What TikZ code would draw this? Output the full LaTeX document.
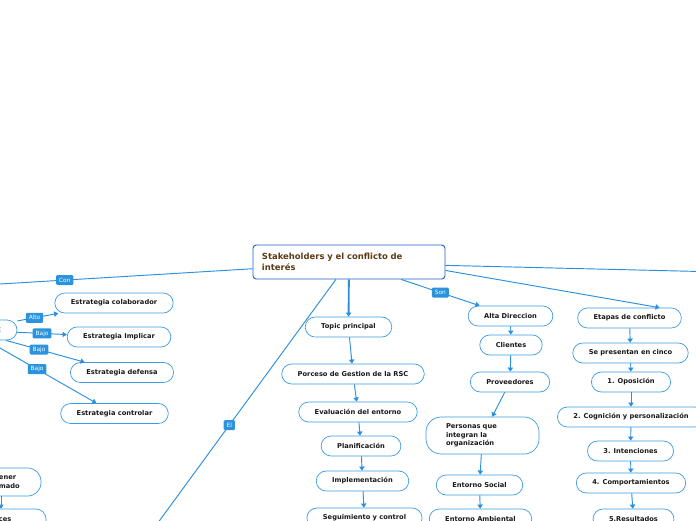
\documentclass[tikz,border=0pt]{standalone}
\usepackage{fontspec}
\setmainfont{DejaVu Sans}
\usetikzlibrary{arrows.meta}
\definecolor{linkblue}{HTML}{2B8FDE}
\definecolor{boxblue}{HTML}{3B9CE6}
\definecolor{tagblue}{HTML}{2B93DD}
\definecolor{mainblue}{HTML}{1B63C6}
\definecolor{maintext}{HTML}{5C3B14}
\tikzset{
	topic/.style={draw=boxblue, fill=white, line width=0.6pt, rounded corners=0.3cm, minimum height=0.6cm, inner xsep=0.48cm, inner ysep=0pt, font=\fontsize{5.7}{7.4}\selectfont\bfseries, text=black!90},
	maintopic/.style={draw=mainblue, fill=white, line width=0.8pt, rounded corners=0.1cm, minimum height=1.02cm, inner xsep=0.27cm, text width=5.22cm, align=left, font=\fontsize{7.2}{9.4}\selectfont\bfseries, text=maintext},
	link/.style={draw=linkblue, line width=0.8pt, -{Triangle[length=3.5pt,width=4.5pt]}},
	plainlink/.style={draw=linkblue, line width=0.8pt},
	tag/.style={fill=tagblue, text=white, rounded corners=1pt, inner xsep=2.5pt, inner ysep=1.5pt, minimum height=0.3cm, font=\fontsize{5}{6}\selectfont}
}
\begin{document}
\begin{tikzpicture}[x=0.03cm, y=-0.03cm]
	\fill[white] (0,0) rectangle (696,520);
	\useasboundingbox (0,0) rectangle (696,520);
	
	\node[maintopic] (main) at (349,262) {Stakeholders y el conflicto de\\interés};
	
	\node[topic, minimum width=2.91cm, text width=1.95cm, align=right] (lft) at (-31.5,330) {E};
	\node[topic] (colab) at (114,303) {Estrategia colaborador};
	\node[topic] (implicar) at (119,337) {Estrategia Implicar};
	\node[topic] (defensa) at (122,372.5) {Estrategia defensa};
	\node[topic] (controlar) at (114.5,413.5) {Estrategia controlar};
	\node[topic, text width=0.78cm, align=left, minimum height=0.84cm, rounded corners=0.4cm] (nA) at (12,482) {ener\\mado};
	\node[topic, text width=0.93cm, align=left, minimum height=0.66cm] (nB) at (14.5,520) {ces};
	
	\node[topic] (tema) at (348.5,327) {Topic principal};
	\node[topic] (proceso) at (353,374) {Porceso de Gestion de la RSC};
	\node[topic] (evalua) at (358,412) {Evaluación del entorno};
	\node[topic] (planif) at (361,446) {Planificación};
	\node[topic] (implem) at (362.5,481) {Implementación};
	\node[topic] (segui) at (364.5,518) {Seguimiento y control};
	
	\node[topic] (alta) at (510.5,316) {Alta Direccion};
	\node[topic] (clientes) at (511,345) {Clientes};
	\node[topic] (provee) at (510,382) {Proveedores};
	\node[topic, text width=2.19cm, inner xsep=0.6cm, align=left, minimum height=1.11cm, rounded corners=0.45cm] (personas) at (482.5,435.5) {Personas que\\integran la\\organización};
	\node[topic] (social) at (479.5,485) {Entorno Social};
	\node[topic] (ambiental) at (480.5,519) {Entorno Ambiental};
	
	\node[topic] (etapas) at (629.5,318) {Etapas de conflicto};
	\node[topic] (cinco) at (630.5,353) {Se presentan en cinco};
	\node[topic] (e1) at (631,382) {1. Oposición};
	\node[topic] (e2) at (631,417) {2. Cognición y personalización};
	\node[topic] (e3) at (630.5,451) {3. Intenciones};
	\node[topic] (e4) at (631,483) {4. Comportamientos};
	\node[topic] (e5) at (633.5,519) {5.Resultados};
	
	\coordinate (offl) at (-10,284.6);
	\coordinate (offr) at (700,271.5);
	\coordinate (offb) at (149,535);
	
	\draw[plainlink] (main.184) -- node[tag, pos=0.715] {Con} (offl);
	\draw[plainlink] (main.-2) -- (offr);
	\draw[plainlink] (main.233) -- node[tag, pos=0.57] {El} (offb);
	\draw[link] (main) -- node[tag, pos=0.5] {Son} (alta);
	\draw[link] (main.-5) -- (etapas.19);
	\draw[link, line width=1.6pt] (main) -- (tema);
	
	\draw[link] (lft) -- node[tag, pos=0.42] {Alto} (colab);
	\draw[link] (lft) -- node[tag, pos=0.5] {Bajo} (implicar);
	\draw[link] (lft) -- node[tag, pos=0.42] {Bajo} (defensa);
	\draw[link] (lft) -- node[tag, pos=0.46] {Bajo} (controlar);
	\draw[link] ([xshift=-0.33cm]nA.south) -- ([xshift=-0.33cm]nA.south |- nB.north);
	
	\draw[link] (tema) -- (proceso);
	\draw[link] (proceso) -- (evalua);
	\draw[link] (evalua) -- (planif);
	\draw[link] (planif) -- (implem);
	\draw[link] (implem) -- (segui);
	
	\draw[link] (alta) -- (clientes);
	\draw[link] (clientes) -- (provee);
	\draw[link] (provee) -- (personas);
	\draw[link] (personas) -- (social);
	\draw[link] (social) -- (ambiental);
	
	\draw[link] (etapas) -- (cinco);
	\draw[link] (cinco) -- (e1);
	\draw[link] (e1) -- (e2);
	\draw[link] (e2) -- (e3);
	\draw[link] (e3) -- (e4);
	\draw[link] (e4) -- (e5);
\end{tikzpicture}
\end{document}
